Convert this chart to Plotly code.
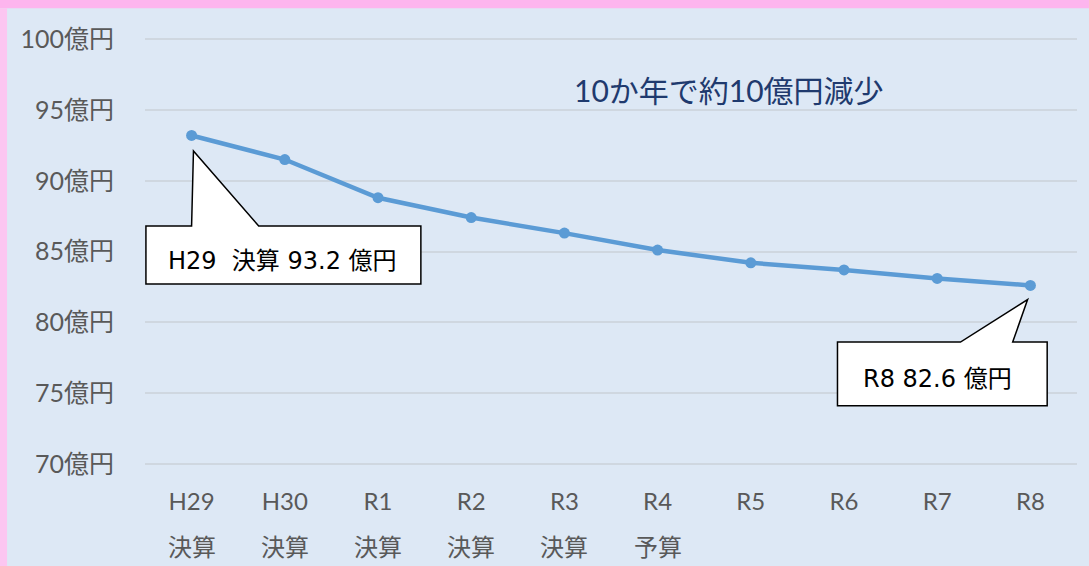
import plotly.graph_objects as go

########## Data ##########
years = ['H29', 'H30', 'R1', 'R2', 'R3', 'R4', 'R5', 'R6', 'R7', 'R8']
year_kind = ['決算', '決算', '決算', '決算', '決算', '予算', '', '', '', '']
amounts = [93.2, 91.5, 88.8, 87.4, 86.3, 85.1, 84.2, 83.7, 83.1, 82.6]  # 億円
y_ticks = [70, 75, 80, 85, 90, 95, 100]

BG = '#DDE8F5'
GRID = '#CFD7E0'
TICK = '#595959'
FONT = 'Lato, "Noto Sans CJK JP", sans-serif'
CALLOUT_FONT = '"DejaVu Sans", "Noto Sans CJK JP", sans-serif'

fig = go.Figure()

fig.add_trace(go.Scatter(
    x=years,
    y=amounts,
    mode='lines+markers',
    line=dict(color='#5B9BD5', width=4.5),
    marker=dict(color='#5B9BD5', size=11),
    hoverinfo='x+y',
    showlegend=False,
))

# second row of x labels (決算 / 予算)
for yr, kind in zip(years, year_kind):
    if kind:
        fig.add_annotation(
            x=yr, y=0, xref='x', yref='paper',
            text=kind, showarrow=False,
            yanchor='middle', yshift=-78,
            font=dict(family=FONT, size=24, color=TICK),
        )

# callout bubbles (drawn in data coords, tip pointing at the marker)
def bubble(left, right, top, bottom, base_l, base_r, tip_x, tip_y):
    return (f'M {left},{top} L {base_l},{top} L {tip_x},{tip_y} L {base_r},{top} '
            f'L {right},{top} L {right},{bottom} L {left},{bottom} Z')

fig.add_shape(
    type='path', xref='x', yref='y', layer='above',
    path=bubble(-0.49, 2.46, 86.8, 82.7, 0.0, 0.72, 0.02, 92.1),
    fillcolor='white', line=dict(color='black', width=1.5),
)
fig.add_shape(
    type='path', xref='x', yref='y', layer='above',
    path=bubble(6.93, 9.18, 78.6, 74.1, 8.25, 8.81, 8.97, 81.6),
    fillcolor='white', line=dict(color='black', width=1.5),
)
fig.add_annotation(
    x=0.98, y=84.3, xref='x', yref='y',
    text=f'{years[0]}&nbsp; {year_kind[0]} {amounts[0]} 億円', showarrow=False,
    font=dict(family=CALLOUT_FONT, size=24, color='black'),
)
fig.add_annotation(
    x=8.0, y=76.0, xref='x', yref='y',
    text=f'{years[-1]} {amounts[-1]} 億円', showarrow=False,
    font=dict(family=CALLOUT_FONT, size=24, color='black'),
)

# headline
fig.add_annotation(
    x=0.627, y=0.873, xref='paper', yref='paper',
    xanchor='center', yanchor='middle',
    text='10か年で約10億円減少', showarrow=False,
    font=dict(family=FONT, size=30, color='#1F3A6E'),
)

# pink frame on top and left
fig.add_shape(type='rect', xref='paper', yref='paper', layer='below',
              x0=-0.3, x1=1.2, y0=1.062, y1=1.3, line_width=0,
              fillcolor='#FDB5EE')
fig.add_shape(type='rect', xref='paper', yref='paper', layer='below',
              x0=-0.3, x1=-0.148, y0=-0.4, y1=1.062, line_width=0,
              fillcolor='#FCC6F1')

fig.update_layout(
    width=1089,
    height=566,
    margin=dict(l=145, r=12, t=35, b=98),
    paper_bgcolor=BG,
    plot_bgcolor=BG,
    font=dict(family=FONT, color=TICK),
    xaxis=dict(
        type='category',
        range=[-0.5, 9.5],
        showgrid=False,
        zeroline=False,
        showline=False,
        tickfont=dict(size=24, color=TICK),
        ticklabelstandoff=17,
    ),
    yaxis=dict(
        range=[69.7, 100.3],
        tickvals=y_ticks,
        ticktext=[f'{v}億円' for v in y_ticks],
        showgrid=True,
        gridcolor=GRID,
        gridwidth=1.5,
        zeroline=False,
        showline=False,
        tickfont=dict(size=25, color=TICK),
        ticklabelstandoff=30,
    ),
)

# drop the page's default body margin so the chart sits at the window origin
fig.write_html('out.html', config={'displayModeBar': False},
               post_script="document.body.style.margin='0';")
